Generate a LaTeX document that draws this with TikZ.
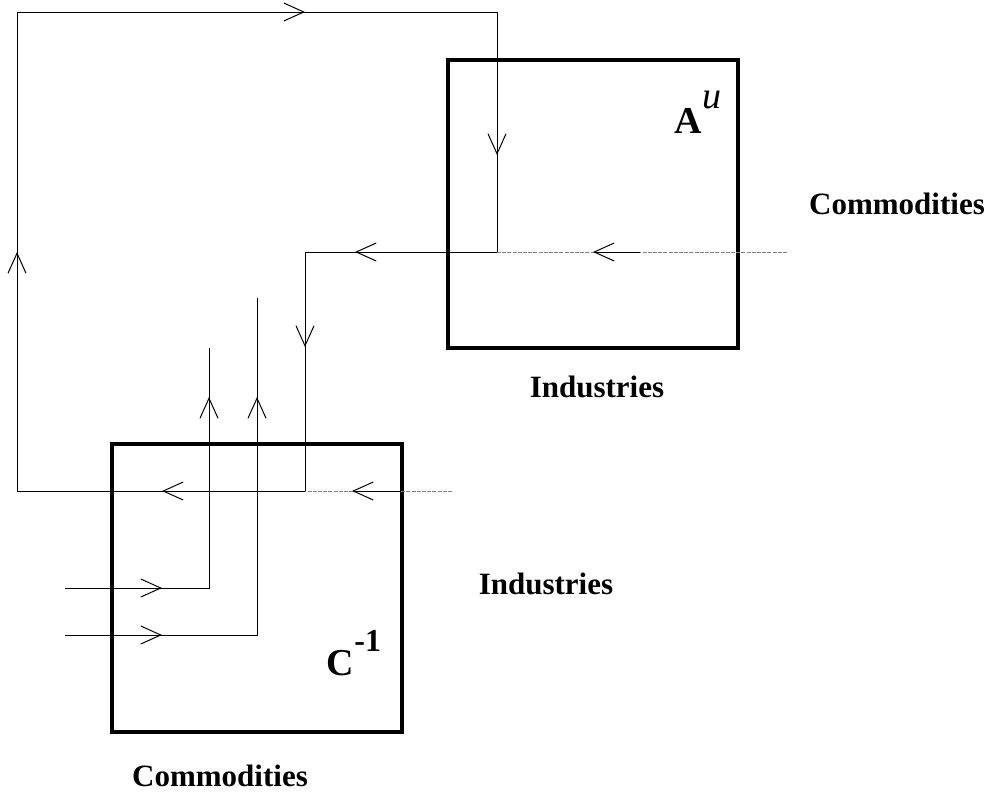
\documentclass[tikz,border=0pt]{standalone}
\usepackage{fontspec}
\setmainfont{Liberation Serif}
\usetikzlibrary{arrows.meta, decorations.markings}

\begin{document}
\begin{tikzpicture}[
		x=0.5pt, y=-0.5pt,
		>={Straight Barb[length=10pt, width=9pt]},
		% Style for the two matrices
		mbox/.style={draw, line width=2pt, minimum width=145pt, minimum height=144pt, inner sep=0pt},
		% Flow lines and the arrow tips put along them
		flow/.style={line width=0.5pt},
		flowtip/.style={postaction={decorate, decoration={markings, mark=at position #1 with {\arrow{>}}}}},
		feed/.style={gray, line width=0.5pt, dash pattern=on 2pt off 0.6pt},
		% Title & Text
		axis label/.style={font=\bfseries\fontsize{15.5}{18}\selectfont},
		mtx label/.style={font=\fontsize{19}{22}\selectfont, inner sep=0pt}
		]
		\useasboundingbox (0,0) rectangle (999,793);
		
		% Matrices
		\node[mbox] (Au) at (593,204) {};
		\node[mbox] (Cinv) at (257,587.5) {};
		\node[mtx label] (Au-name) at (698,112) {\textbf{A}\raisebox{1.45ex}{\itshape u}};
		\node[mtx label] (Cinv-name) at (354,653) {\textbf{C}\raisebox{1.35ex}{\textbf{\fontsize{16}{18}\selectfont -1}}};
		
		% Axis labels
		\node[axis label] (Au-rows) at (897,204) {Commodities};
		\node[axis label] (Au-cols) at (597,387) {Industries};
		\node[axis label] (Cinv-rows) at (546,584) {Industries};
		\node[axis label] (Cinv-cols) at (220,776) {Commodities};
		
		% Corners of the flow lines
		\coordinate (Au-out) at (497,252);
		\coordinate (turn) at (305,252);
		\coordinate (Cinv-in) at (305,491);
		\coordinate (left-low) at (17,491);
		\coordinate (left-top) at (17,12);
		\coordinate (right-top) at (497,12);
		\coordinate (Au-feed) at (787,252);
		\coordinate (Au-feed-a) at (640,252);
		\coordinate (Au-feed-b) at (593,252);
		\coordinate (Cinv-feed) at (452,491);
		\coordinate (Cinv-feed-a) at (400,491);
		\coordinate (Cinv-feed-b) at (352,491);
		\coordinate (in-1) at (65,588);
		\coordinate (up-1) at (209,588);
		\coordinate (top-1) at (209,348);
		\coordinate (in-2) at (65,635);
		\coordinate (up-2) at (257,635);
		\coordinate (top-2) at (257,298);
		
		% The big loop
		\draw[flow, flowtip=71pt, flowtip=143.5pt, flowtip=287pt, flowtip=479pt, flowtip=743pt, flowtip=910.5pt]
			(Au-out) -- (turn) -- (Cinv-in) -- (left-low) -- (left-top) -- (right-top) -- cycle;
		
		% Feeds coming in from the right
		\draw[feed] (Au-feed) -- (Au-out);
		\draw[flow, ->] (Au-feed-a) -- (Au-feed-b);
		\draw[feed] (Cinv-feed) -- (Cinv-in);
		\draw[flow, ->] (Cinv-feed-a) -- (Cinv-feed-b);
		
		% Inputs on the left
		\draw[flow, flowtip=48.5pt, flowtip=167.5pt] (in-1) -- (up-1) -- (top-1);
		\draw[flow, flowtip=48.5pt, flowtip=215pt] (in-2) -- (up-2) -- (top-2);
	\end{tikzpicture}
\end{document}
